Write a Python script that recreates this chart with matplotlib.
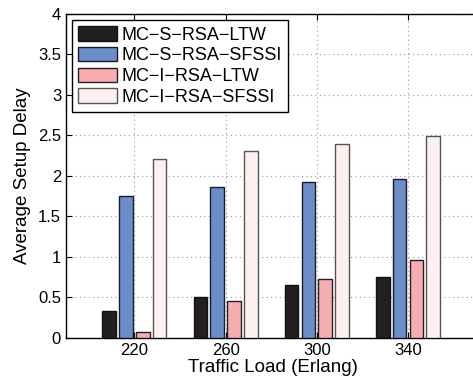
import numpy as np
import matplotlib
matplotlib.use("Agg")
import matplotlib.pyplot as plt

plt.rcParams['font.family'] = ['Liberation Sans', 'DejaVu Sans']

loads = [220, 260, 300, 340]
series_names = ["MC\u2212S\u2212RSA\u2212LTW", "MC\u2212S\u2212RSA\u2212SFSSI",
                "MC\u2212I\u2212RSA\u2212LTW", "MC\u2212I\u2212RSA\u2212SFSSI"]
s_ltw = [0.33, 0.51, 0.65, 0.75]
s_sfssi = [1.75, 1.87, 1.92, 1.96]
i_ltw = [0.07, 0.46, 0.73, 0.96]
i_sfssi = [2.21, 2.31, 2.40, 2.49]

colors = ['#231f20', '#6c8ec8', '#f7acb0', '#fdf0f0']
edges = ['#111111', '#1a1a2a', '#222222', '#555555']

fig = plt.figure(figsize=(4.73, 3.83), dpi=100)
ax = fig.add_axes([0.1395, 0.1175, 0.875, 0.846])

x = np.array(loads, dtype=float)
width = 6.0
step = 7.35
offsets = [-1.5 * step, -0.5 * step, 0.5 * step, 1.5 * step]
for k, vals in enumerate([s_ltw, s_sfssi, i_ltw, i_sfssi]):
    ax.bar(x + offsets[k], vals, width, color=colors[k], edgecolor=edges[k],
           linewidth=1.0, label=series_names[k], zorder=3)

# keep ~2.28 px per Erlang, right spine falls just outside the picture
ax.set_xlim(190, 190 + 0.875 * 473 / 2.28)
ax.set_ylim(0, 4)
ax.set_xticks(loads)
ax.set_yticks(np.arange(0, 4.01, 0.5))
ax.set_yticklabels(['0', '0.5', '1', '1.5', '2', '2.5', '3', '3.5', '4'])
ax.grid(True, linestyle=(0, (1, 3)), color='#999999', linewidth=0.8, zorder=0)
ax.tick_params(direction='in', top=True, right=False, labelsize=12, length=4)
ax.spines['right'].set_visible(False)
for sp in ax.spines.values():
    sp.set_linewidth(1.0)

ax.set_xlabel("Traffic Load (Erlang)", fontsize=13.5, labelpad=1)
ax.set_ylabel("Average Setup Delay", fontsize=13.5, labelpad=5)

leg = ax.legend(loc='upper left', fontsize=13, fancybox=False, framealpha=1,
                edgecolor='black', handlelength=2.15, handleheight=0.85,
                borderaxespad=0.33, labelspacing=0.18, handletextpad=0.22,
                borderpad=0.35)
leg.get_frame().set_linewidth(1.0)

fig.savefig("out.png", dpi=100)
